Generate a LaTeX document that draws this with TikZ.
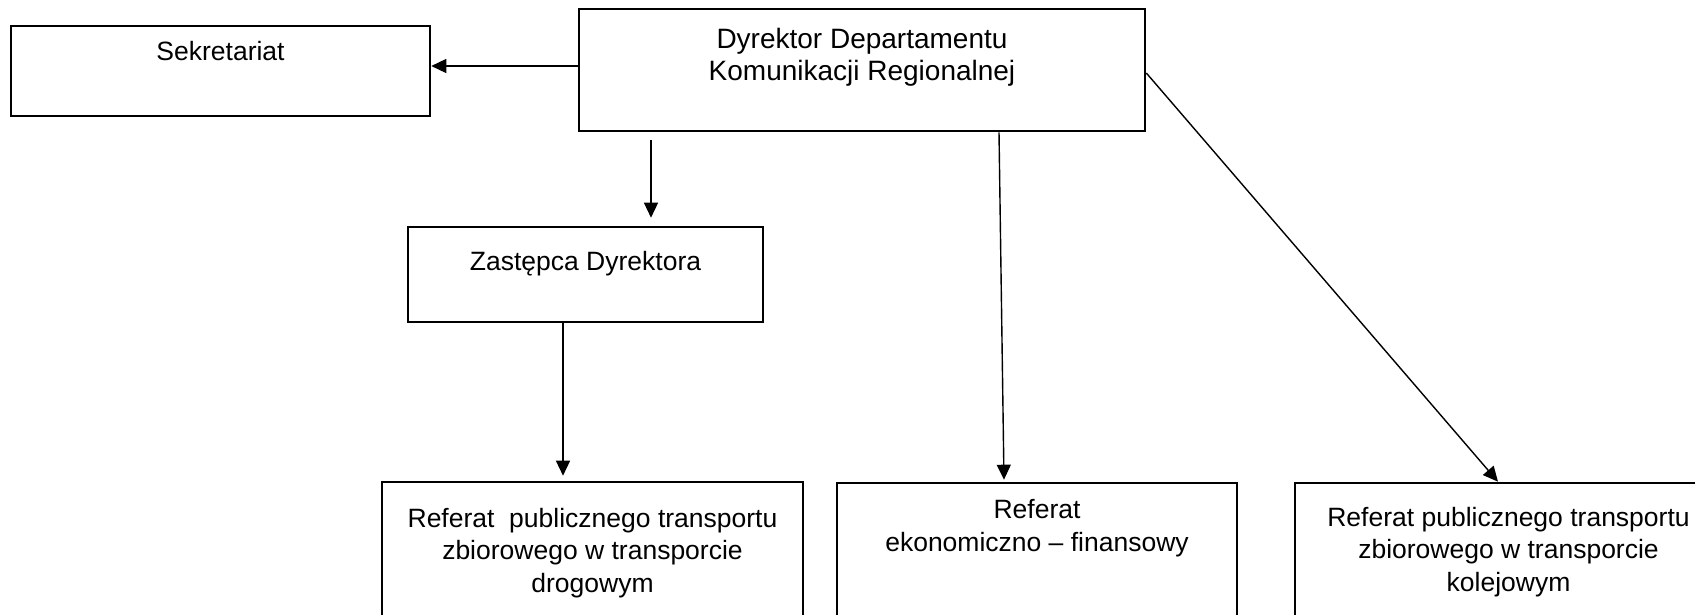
\documentclass[tikz,border=0pt]{standalone}
\usepackage{fontspec}
\setmainfont{Liberation Sans}
\usetikzlibrary{arrows.meta,calc}
\begin{document}
\begin{tikzpicture}[x=1pt,y=-1pt,
  box/.style={draw,line width=2.6pt,rectangle,inner sep=0pt},
  txt/.style={align=center,inner sep=0pt,font=\fontsize{26.5}{32.5}\selectfont},
  dtxt/.style={align=center,inner sep=0pt,font=\fontsize{28}{32}\selectfont},
  arr/.style={line width=1.4pt,-{Triangle[length=15pt,width=14pt]}}]
\clip (0,0) rectangle (1695,614);
\useasboundingbox (0,0) rectangle (1695,614);
% boxes
\node[box,minimum width=566pt,minimum height=122pt] (dir) at (862,70) {};
\node[box,minimum width=419pt,minimum height=90pt] (sek) at (220.5,71) {};
\node[box,minimum width=355pt,minimum height=95pt] (zast) at (585.5,274.5) {};
\node[box,minimum width=421pt,minimum height=158pt] (drog) at (592.5,561) {};
\node[box,minimum width=400pt,minimum height=157pt] (ekon) at (1037,561.5) {};
\node[box,minimum width=427pt,minimum height=157pt] (kolej) at (1508.5,561.5) {};
% texts (base anchor = baseline of the last line)
\node[dtxt,anchor=base] (tdir) at (862,80) {Dyrektor Departamentu\\Komunikacji Regionalnej};
\node[txt,anchor=base] (tsek) at (220.5,60) {Sekretariat};
\node[txt,anchor=base] (tzast) at (585.5,270) {Zastępca Dyrektora};
\node[txt,anchor=base] (tdrog) at (592.5,592) {Referat~ publicznego transportu\\zbiorowego w transporcie\\drogowym};
\node[txt,anchor=base] (tekon) at (1037,551) {Referat\\ekonomiczno – finansowy};
\node[txt,anchor=base] (tkolej) at (1508.5,591) {Referat publicznego transportu\\zbiorowego w transporcie\\kolejowym};
% connectors
\draw[arr] (dir.west |- 0,66) -- (sek.east |- 0,66);
\draw[arr] ($(dir.south -| 651,0)+(0,8)$) -- ($(zast.north -| 651,0)+(0,-8)$);
\draw[arr] (zast.south -| 563,0) -- ($(drog.north -| 563,0)+(0,-5)$);
\draw[arr] (dir.south -| 999,0) -- ($(ekon.north -| 1004,0)+(0,-2)$);
\draw[arr] (dir.east |- 0,73) -- (kolej.north -| 1498,0);
\end{tikzpicture}
\end{document}
